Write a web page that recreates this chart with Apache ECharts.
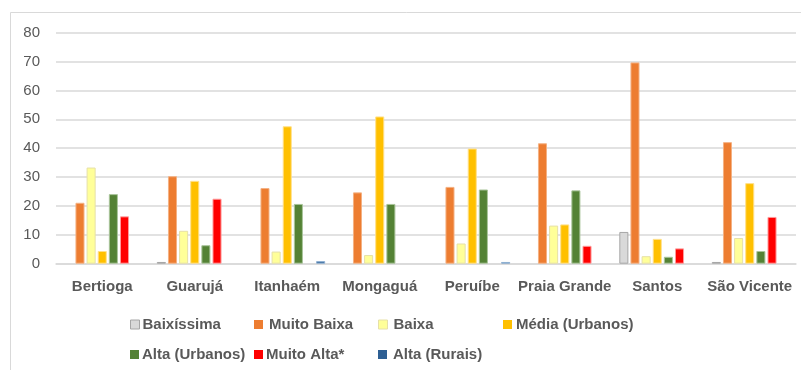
<!DOCTYPE html>
<html>
<head>
<meta charset="utf-8">
<script src="https://cdn.jsdelivr.net/npm/echarts@6/dist/echarts.min.js"></script>
<style>
  html, body { margin: 0; padding: 0; background: #fff; }
  #chart { width: 801px; height: 370px; }
</style>
</head>
<body>
<div id="chart"></div>
<script>
// Municipalities along the x axis
const categories = ['Bertioga', 'Guarujá', 'Itanhaém', 'Mongaguá', 'Peruíbe', 'Praia Grande', 'Santos', 'São Vicente'];

// Values per vulnerability class (one entry per municipality)
const baixissima   = [0,    0.6,  0,    0,    0,    0,    11.0, 0.6];
const muitoBaixa   = [21.1, 30.3, 26.2, 24.7, 26.6, 41.7, 69.7, 42.1];
const baixa        = [33.3, 11.4, 4.2,  3.0,  7.0,  13.2, 2.6,  8.9];
const mediaUrb     = [4.4,  28.7, 47.6, 51.0, 39.9, 13.6, 8.6,  27.9];
const altaUrb      = [24.1, 6.4,  20.7, 20.7, 25.7, 25.4, 2.4,  4.4];
const muitoAlta    = [16.4, 22.5, 0,    0,    0,    6.2,  5.3,  16.2];
const altaRurais   = [0,    0,    0.9,  0,    0.6,  0,    0,    0];

// Y axis ticks
const yTicks = [0, 10, 20, 30, 40, 50, 60, 70, 80];

const seriesDefs = [
  { name: 'Baixíssima',       data: baixissima, color: '#d9d9d9', border: '#a6a6a6', gap: -2, iconBorder: 1 },
  { name: 'Muito Baixa',      data: muitoBaixa, color: '#ed7d31', border: '#f4b183', gap: 1,  iconBorder: 0 },
  { name: 'Baixa',            data: baixa,      color: '#ffff99', border: '#e6e0a8', gap: 1,  iconBorder: 1 },
  { name: 'Média (Urbanos)',  data: mediaUrb,   color: '#ffc000', border: '#ffe08a', gap: -1, iconBorder: 0 },
  { name: 'Alta (Urbanos)',   data: altaUrb,    color: '#548235', border: '#a9c49a', gap: -2, iconBorder: 0 },
  { name: 'Muito Alta*',      data: muitoAlta,  color: '#ff0000', border: '#ff9a9a', gap: -2, iconBorder: 0 },
  { name: 'Alta (Rurais)',    data: altaRurais, color: '#2e5f93', border: '#8fb0d3', gap: 1,  iconBorder: 0 }
];

const textColor = '#595959';
const font = 'Liberation Sans';

// Legend positions: two rows, four columns
const legendCols = [130, 254, 378, 503];
const legendRows = [317, 347];

const legends = seriesDefs.map((s, i) => ({
  data: [s.name],
  left: legendCols[i % 4],
  top: legendRows[Math.floor(i / 4)],
  itemWidth: 9,
  itemHeight: 9,
  itemGap: 0,
  padding: 0,
  icon: 'rect',
  selectedMode: false,
  itemStyle: { borderWidth: s.iconBorder, borderColor: s.border },
  textStyle: { color: textColor, fontSize: 15, fontFamily: font, fontWeight: 'bold', padding: [0, 0, 0, s.gap] }
}));

const chart = echarts.init(document.getElementById('chart'), null, { renderer: 'canvas' });

chart.setOption({
  animation: false,
  backgroundColor: '#ffffff',
  graphic: [{
    type: 'rect',
    shape: { x: 10.5, y: 12.5, width: 900, height: 600 },
    style: { fill: 'none', stroke: '#d9d9d9', lineWidth: 1 },
    silent: true
  }],
  grid: { left: 56, right: 5, top: 32.7, bottom: 106.3, containLabel: false },
  legend: legends,
  xAxis: {
    type: 'category',
    data: categories,
    axisLine: { show: true, lineStyle: { color: '#d9d9d9', width: 1.5 } },
    axisTick: { show: false },
    axisLabel: { interval: 0, color: textColor, fontSize: 15, fontWeight: 'bold', fontFamily: font, margin: 16 }
  },
  yAxis: {
    type: 'value',
    min: yTicks[0],
    max: yTicks[yTicks.length - 1],
    interval: yTicks[1] - yTicks[0],
    axisLine: { show: false },
    axisTick: { show: false },
    axisLabel: { color: textColor, fontSize: 15, fontFamily: font, margin: 16 },
    splitLine: { lineStyle: { color: '#d9d9d9', width: 1.5 } }
  },
  series: seriesDefs.map(s => ({
    name: s.name,
    type: 'bar',
    // zero shares are left empty so no outline is drawn for them
    data: s.data.map(v => (v === 0 ? '-' : v)),
    barGap: '23%',
    barCategoryGap: '18%',
    itemStyle: { color: s.color, borderColor: s.border, borderWidth: 1 }
  }))
});
</script>
</body>
</html>
